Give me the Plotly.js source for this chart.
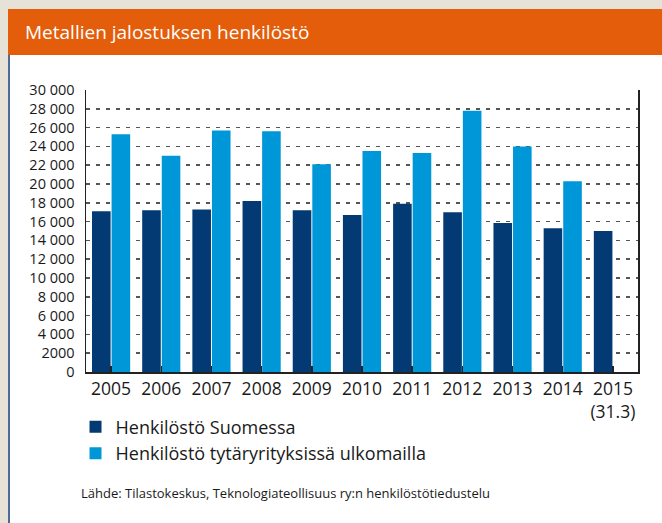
<!DOCTYPE html>
<html>
<head>
<meta charset="utf-8">
<script src="https://cdn.plot.ly/plotly-3.0.1.min.js"></script>
<style>
  html, body { margin: 0; padding: 0; width: 662px; height: 523px; overflow: hidden; background: #e6e2d8; }
  #header { position: absolute; left: 8px; top: 9px; width: 654px; height: 46px; background: #e35d0b; }
  #panel { position: absolute; left: 10px; top: 55px; width: 652px; height: 468px; background: #ffffff; }
  #edge { position: absolute; left: 8px; top: 55px; width: 2px; height: 468px; background: #4d6b98; }
  #chart { position: absolute; left: 0; top: 0; width: 662px; height: 523px; }
</style>
</head>
<body>
<div id="header"></div>
<div id="panel"></div>
<div id="edge"></div>
<div id="chart"></div>
<script>
// Data
const years = ["2005", "2006", "2007", "2008", "2009", "2010", "2011", "2012", "2013", "2014", "2015"];
const yearLabels = ["2005", "2006", "2007", "2008", "2009", "2010", "2011", "2012", "2013", "2014", "2015<br>(31.3)"];
const finland = [17100, 17200, 17300, 18200, 17200, 16700, 17900, 17000, 15850, 15300, 15000];
const abroad = [25300, 23000, 25700, 25600, 22100, 23500, 23300, 27800, 24000, 20300, null];
const seriesNames = ["Henkilöstö Suomessa", "Henkilöstö tytäryrityksissä ulkomailla"];
const yTickVals = [0, 2000, 4000, 6000, 8000, 10000, 12000, 14000, 16000, 18000, 20000, 22000, 24000, 26000, 28000, 30000];
const yTickText = ["0", "2000", "4 000", "6 000", "8 000", "10 000", "12 000", "14 000", "16 000", "18 000", "20 000", "22 000", "24 000", "26 000", "28 000", "30 000"];
const titleText = "Metallien jalostuksen henkilöstö";
const sourceText = "Lähde: Tilastokeskus, Teknologiateollisuus ry:n henkilöstötiedustelu";

const FONT = "Open Sans, Noto Sans, sans-serif";

const traces = [
  { type: "bar", x: years, y: finland, name: seriesNames[0], marker: { color: "#033a73" }, hoverinfo: "skip" },
  { type: "bar", x: years, y: abroad, name: seriesNames[1], marker: { color: "#0097d8" }, hoverinfo: "skip" }
];

const layout = {
  width: 662, height: 523,
  margin: { l: 86, r: 24, t: 90, b: 151 },
  paper_bgcolor: "rgba(0,0,0,0)",
  plot_bgcolor: "rgba(0,0,0,0)",
  barmode: "group",
  bargap: 0.22,
  bargroupgap: 0.05,
  font: { family: FONT, color: "#1a1a1a" },
  title: {
    text: titleText,
    font: { family: FONT, size: 19, color: "#ffffff" },
    xref: "container", x: 25 / 662, xanchor: "left",
    yref: "container", y: 1 - 32 / 523, yanchor: "middle"
  },
  xaxis: {
    type: "category",
    tickvals: years,
    ticktext: yearLabels,
    tickfont: { size: 17.5, color: "#1a1a1a" },
    showline: true, linecolor: "#222", linewidth: 2,
    ticks: "inside", ticklen: 6, tickcolor: "#222", tickwidth: 1.5,
    showgrid: false, zeroline: false,
    fixedrange: true
  },
  yaxis: {
    range: [0, 30000],
    tickvals: yTickVals,
    ticktext: yTickText,
    tickfont: { size: 14.5, color: "#1a1a1a" },
    showline: true, mirror: true, linecolor: "#222", linewidth: 1.5,
    showgrid: true, gridcolor: "#555", gridwidth: 1.5, griddash: "4px,6px",
    zeroline: false,
    ticks: "", ticklabelstandoff: 7,
    fixedrange: true
  },
  showlegend: true,
  legend: {
    orientation: "v",
    x: -0.019, xanchor: "left",
    y: -0.13, yanchor: "top",
    font: { size: 18, color: "#1a1a1a" },
    bgcolor: "rgba(0,0,0,0)",
    tracegroupgap: 0,
    itemwidth: 30,
    traceorder: "normal"
  },
  annotations: [
    {
      text: sourceText,
      xref: "paper", yref: "paper",
      x: (79 - 86) / 552, xanchor: "left",
      y: (372 - 493) / 282, yanchor: "middle",
      showarrow: false,
      font: { size: 13, color: "#1a1a1a" }
    }
  ]
};

Plotly.newPlot("chart", traces, layout, { displayModeBar: false, staticPlot: true });
</script>
</body>
</html>
